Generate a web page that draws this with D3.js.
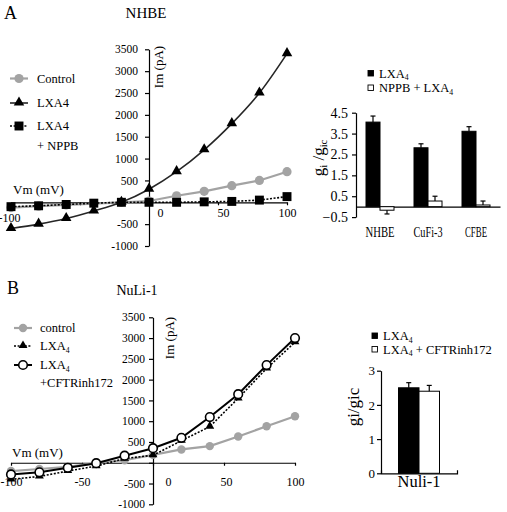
<!DOCTYPE html>
<html><head><meta charset="utf-8">
<script src="https://cdn.jsdelivr.net/npm/d3@7"></script>
<style>
body{margin:0;background:#fff}
svg{display:block}
svg text{font-family:"Liberation Serif","Tinos","Times New Roman","Times","DejaVu Serif",serif !important;fill:#000}
</style>
</head><body>
<svg id="c" width="507" height="512"></svg>
<script>
// ---------- data ----------
const vm = [-100,-80,-60,-40,-20,0,20,40,60,80,100];
const yTicksIV = [-1000,-500,0,500,1000,1500,2000,2500,3000,3500];
const xTicksIV = [-100,-50,0,50,100];

// Panel A (NHBE) I-V
const aControl = [-120,-90,-60,-30,0,30,150,250,380,500,700];
const aLXA4    = [-600,-500,-370,-200,0,300,700,1200,1800,2500,3400];
const aNPPB    = [-100,-80,-50,-20,0,0,0,10,20,50,130];

// Panel B (NuLi-1) I-V
const bControl = [-200,-150,-100,-10,60,190,320,400,630,880,1120];
const bLXA4    = [-400,-330,-200,-80,100,180,530,870,1550,2270,2900];
const bCFTR    = [-280,-230,-120,-10,170,350,600,1100,1650,2350,3000];

// Bar panel A
const barCatsA = ["NHBE","CuFi-3","CFBE"];
const barA_LXA4 = [4.05,2.82,3.61];
const barA_LXA4err = [0.29,0.19,0.22];
const barA_NPPB = [-0.17,0.27,0.08];
const barA_NPPBerr = [0.18,0.23,0.19];
const barTicksA = [-0.5,0.5,1.5,2.5,3.5,4.5];

// Bar panel B
const barCatsB = ["Nuli-1"];
const barB_LXA4 = [2.5];
const barB_LXA4err = [0.15];
const barB_CFTR = [2.4];
const barB_CFTRerr = [0.17];
const barTicksB = [0,1,2,3];

// ---------- helpers ----------
const svg = d3.select("#c");
const GRAY = "#a3a3a3";

function subText(sel, parts, size){
  parts.forEach(([t,s],i)=>{
    const ts = sel.append("tspan").text(t);
    if(s){ ts.attr("font-size", size*0.62).attr("dy", size*0.2); }
    else if(i>0 && parts[i-1][1]){ ts.attr("dy", -size*0.2); }
  });
}

function drawMarker(g, type, x, y, opt){
  if(type==="circle"){
    g.append("circle").attr("cx",x).attr("cy",y).attr("r",opt.r)
      .attr("fill",opt.fill).attr("stroke",opt.stroke||"none").attr("stroke-width",opt.sw||0);
  } else {
    const sym = type==="triangle"? d3.symbolTriangle : d3.symbolSquare;
    g.append("path").attr("d", d3.symbol(sym).size(opt.size)())
      .attr("transform",`translate(${x},${y + (type==="triangle"?-0.5:0)})`)
      .attr("fill",opt.fill);
  }
}

function styleAxis(ax, fs){
  ax.attr("font-family",null);
  ax.selectAll("text").attr("font-size",fs).attr("fill","#000");
  ax.selectAll("line,path").attr("stroke","#000").attr("stroke-width",1.2);
}

function ivChart(cfg){
  const g = svg.append("g");
  const x = d3.scaleLinear().domain([-100,100]).range(cfg.xr);
  const y = d3.scaleLinear().domain([-1000,3500]).range(cfg.yr);

  const ya = g.append("g").attr("transform",`translate(${x(0)},0)`)
    .call(d3.axisLeft(y).tickValues(yTicksIV).tickSize(4).tickSizeOuter(0)
      .tickPadding(cfg.yPad).tickFormat(d=> d===0? "" : d));
  styleAxis(ya, 11.5);

  const xa = g.append("g").attr("transform",`translate(0,${y(0)})`)
    .call(d3.axisBottom(x).tickValues(xTicksIV).tickSize(3).tickSizeOuter(0)
      .tickFormat(d=> cfg.hideX.includes(d)? "" : d));
  styleAxis(xa, 12);
  xa.selectAll("text")
    .attr("y", d=> cfg.xLabY + (d===-100? cfg.firstDy:0)).attr("dy",0)
    .attr("dx", d=> cfg.xDx[d]||0);

  cfg.series.forEach(s=>{
    const line = d3.line().x((d,i)=>x(vm[i])).y(d=>y(d)).curve(s.curve||d3.curveLinear);
    g.append("path").datum(s.values).attr("d",line).attr("fill","none")
      .attr("stroke",s.stroke).attr("stroke-width",s.sw)
      .attr("stroke-dasharray",s.dash||null);
    s.values.forEach((v,i)=> drawMarker(g, s.marker, x(vm[i]), y(v), s.mopt));
  });

  g.append("text").attr("x",cfg.vmPos[0]).attr("y",cfg.vmPos[1]).attr("font-size",13).text("Vm (mV)");
  g.append("text").attr("transform",`translate(${cfg.imPos[0]},${cfg.imPos[1]}) rotate(-90)`)
    .attr("text-anchor","middle").attr("font-size",13).text("Im (pA)");

  cfg.legend.forEach(L=>{
    const s = cfg.series[L.si];
    g.append("line").attr("x1",cfg.legX[0]).attr("x2",cfg.legX[1]).attr("y1",L.y).attr("y2",L.y)
      .attr("stroke",s.stroke).attr("stroke-width",s.sw).attr("stroke-dasharray",s.dash||null);
    drawMarker(g, s.marker, (cfg.legX[0]+cfg.legX[1])/2, L.y, s.mopt);
    L.lines.forEach((parts,k)=>{
      const t = g.append("text").attr("x",cfg.legTx).attr("y",L.y + 4 + k*cfg.legLine).attr("font-size",12.5);
      subText(t, parts, 12.5);
    });
  });
}

svg.append("text").attr("x",4).attr("y",19).attr("font-size",18).text("A");
svg.append("text").attr("x",146).attr("y",18).attr("font-size",15).attr("text-anchor","middle").text("NHBE");
svg.append("text").attr("x",7).attr("y",294).attr("font-size",18).text("B");
svg.append("text").attr("x",137).attr("y",295).attr("font-size",14).attr("text-anchor","middle").text("NuLi-1");

ivChart({
  xr:[11,287], yr:[246,49.3], yPad:7,
  hideX:[-50], xLabY:15, firstDy:5, xDx:{"-100":-2,"0":11,"50":5},
  vmPos:[13,194], imPos:[163,67],
  series:[
    {values:aControl, stroke:GRAY, sw:2.2, marker:"circle", mopt:{r:4.6,fill:GRAY}},
    {values:aLXA4, stroke:"#262626", sw:1.6, curve:d3.curveCatmullRom, marker:"triangle", mopt:{size:48,fill:"#000"}},
    {values:aNPPB, stroke:"#000", sw:1.6, dash:"2,1.6", marker:"square", mopt:{size:80,fill:"#000"}}
  ],
  legX:[10,28], legTx:37, legLine:20,
  legend:[
    {si:0, y:78.5, lines:[[["Control",false]]]},
    {si:1, y:103, lines:[[["LXA4",false]]]},
    {si:2, y:126, lines:[[["LXA4",false]],[["+ NPPB",false]]]}
  ]
});

ivChart({
  xr:[11,295], yr:[504.3,317.3], yPad:4,
  hideX:[], xLabY:23, firstDy:0, xDx:{"0":15,"50":2},
  vmPos:[12,457], imPos:[174,338],
  series:[
    {values:bControl, stroke:GRAY, sw:2.2, marker:"circle", mopt:{r:4.2,fill:GRAY}},
    {values:bLXA4, stroke:"#000", sw:1.6, dash:"2,1.6", marker:"triangle", mopt:{size:34,fill:"#000"}},
    {values:bCFTR, stroke:"#000", sw:2, marker:"circle", mopt:{r:4.3,fill:"#fff",stroke:"#000",sw:1.6}}
  ],
  legX:[14,32], legTx:40, legLine:18,
  legend:[
    {si:0, y:328, lines:[[["control",false]]]},
    {si:1, y:346, lines:[[["LXA",false],["4",true]]]},
    {si:2, y:365, lines:[[["LXA",false],["4",true]],[["+CFTRinh172",false]]]}
  ]
});

function barChart(cfg){
  const g = svg.append("g");
  const x = d3.scalePoint().domain(cfg.cats).range(cfg.xr).padding(0.5);
  const y = d3.scaleLinear().domain(cfg.yd).range(cfg.yr);
  const ya = g.append("g").attr("transform",`translate(${cfg.xr[0]},0)`)
    .call(d3.axisLeft(y).tickValues(cfg.ticks).tickSize(4).tickSizeOuter(0).tickPadding(cfg.yPad)
      .tickFormat(cfg.fmt));
  styleAxis(ya, cfg.tickFs);
  const xa = g.append("g").attr("transform",`translate(0,${y(0)})`)
    .call(d3.axisBottom(d3.scaleLinear().range(cfg.xr)).tickValues([]).tickSizeOuter(cfg.xOuter));
  styleAxis(xa, 12);

  const bw = cfg.bw;
  cfg.sets.forEach((s,si)=>{
    s.values.forEach((v,i)=>{
      const cx = x(cfg.cats[i]) + (si===0? -bw : 0);
      g.append("rect").attr("x",cx).attr("width",bw)
        .attr("y", Math.min(y(v),y(0))).attr("height", Math.abs(y(v)-y(0)))
        .attr("fill",s.fill).attr("stroke","#000").attr("stroke-width",1);
      const e = v + (v<0? -s.err[i] : s.err[i]);
      const mx = cx + bw/2;
      g.append("line").attr("x1",mx).attr("x2",mx).attr("y1",y(v)).attr("y2",y(e))
        .attr("stroke","#000").attr("stroke-width",1.2);
      g.append("line").attr("x1",mx-2.5).attr("x2",mx+2.5).attr("y1",y(e)).attr("y2",y(e))
        .attr("stroke","#000").attr("stroke-width",1.2);
    });
  });
  cfg.cats.forEach((c,i)=>{
    g.append("text").attr("x",x(c)).attr("y",cfg.catY).attr("text-anchor","middle")
      .attr("font-size",cfg.catFs).attr("textLength",cfg.catLen[i]).attr("lengthAdjust","spacingAndGlyphs").text(c);
  });
  const yt = g.append("text").attr("transform",`translate(${cfg.ytPos[0]},${cfg.ytPos[1]}) rotate(-90)`)
    .attr("text-anchor","middle").attr("font-size",cfg.ytFs);
  subText(yt, cfg.ytParts, cfg.ytFs);
  cfg.sets.forEach((s,si)=>{
    const ly = cfg.legY[si];
    g.append("rect").attr("x",cfg.legX).attr("y",ly-3).attr("width",5.5).attr("height",5.5)
      .attr("fill",s.fill).attr("stroke","#000").attr("stroke-width",0.9);
    const t = g.append("text").attr("x",cfg.legX+11).attr("y",ly+4).attr("font-size",12.5);
    subText(t, s.label, 12.5);
  });
}

barChart({
  cats:barCatsA, xr:[356,500], yd:[-0.5,4.5], yr:[217.1,112.7], ticks:barTicksA, yPad:4,
  fmt:d3.format(".1f"), tickFs:14, xOuter:0, bw:14,
  sets:[
    {values:barA_LXA4, err:barA_LXA4err, fill:"#000", label:[["LXA",false],["4",true]]},
    {values:barA_NPPB, err:barA_NPPBerr, fill:"#fff", label:[["NPPB + LXA",false],["4",true]]}
  ],
  catY:237, catFs:15, catLen:[29,29,22],
  ytPos:[324,158], ytFs:17, ytParts:[["g",false],["i",true],[" /g",false],["ic",true]],
  legX:368, legY:[73.5,88]
});

barChart({
  cats:barCatsB, xr:[381,457], yd:[0,3], yr:[473.3,370.7], ticks:barTicksB, yPad:2,
  fmt:d3.format("d"), tickFs:13, xOuter:-3, bw:20.5,
  sets:[
    {values:barB_LXA4, err:barB_LXA4err, fill:"#000", label:[["LXA",false],["4",true]]},
    {values:barB_CFTR, err:barB_CFTRerr, fill:"#fff", label:[["LXA",false],["4",true],[" + CFTRinh172",false]]}
  ],
  catY:487, catFs:16, catLen:[43],
  ytPos:[359,407], ytFs:17, ytParts:[["gi/gic",false]],
  legX:372, legY:[336,349.5]
});
</script>
</body></html>
